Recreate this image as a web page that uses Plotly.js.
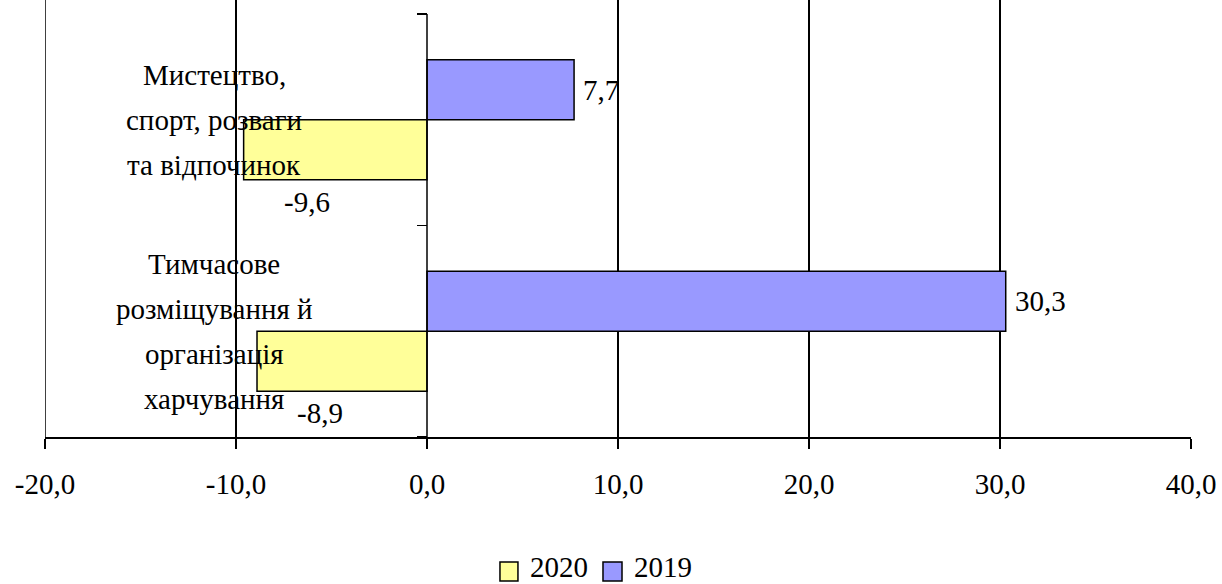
<!DOCTYPE html>
<html>
<head>
<meta charset="utf-8">
<script src="https://cdn.plot.ly/plotly-3.0.1.min.js"></script>
<style>
html,body{margin:0;padding:0;background:#fff;}
#chart text {
  font-family: "Liberation Serif", "Times New Roman", "DejaVu Serif", serif !important;
}
</style>
</head>
<body>
<div id="chart" style="width:1222px;height:584px"></div>
<script>
// ---- data ----
const categories = [
  "Тимчасове розміщування й організація харчування",
  "Мистецтво, спорт, розваги та відпочинок"
];
const categoryLabelLines = [
  ["Тимчасове", "розміщування й", "організація", "харчування"],
  ["Мистецтво,", "спорт, розваги", "та відпочинок"]
];
const seriesNames = ["2020", "2019"];
const values2020 = [-8.9, -9.6];
const values2019 = [30.3, 7.7];
const xTickVals = [-20, -10, 0, 10, 20, 30, 40];
const xTickLabels = ["-20,0", "-10,0", "0,0", "10,0", "20,0", "30,0", "40,0"];

// ---- styles ----
const colors = ["#FFFF99", "#9999FF"];
const fmt = v => v.toFixed(1).replace(".", ",");
function tf() { return {family: "Liberation Serif", size: 29, color: "#000000"}; }

const traces = [values2020, values2019].map((vals, k) => ({
  type: "bar",
  orientation: "h",
  name: seriesNames[k],
  x: vals,
  y: categories,
  marker: {color: colors[k], line: {color: "#000", width: 1.5}},
  hoverinfo: "none",
  showlegend: false
}));

const annotations = [];
const shapes = [];
categories.forEach((cat, i) => {
  const lines = categoryLabelLines[i];
  const n = lines.length;
  lines.forEach((ln, j) => {
    annotations.push({
      xref: "paper", yref: "y", x: 0.1475, y: cat,
      xanchor: "center", yanchor: "middle",
      yshift: ((n - 1) / 2 - j) * 45,
      text: ln, showarrow: false, font: tf()
    });
  });
  annotations.push({
    xref: "x", yref: "y", x: values2019[i], y: cat,
    xanchor: "left", yanchor: "middle", xshift: 7, yshift: 30,
    text: fmt(values2019[i]), showarrow: false, font: tf()
  });
  annotations.push({
    xref: "x", yref: "y", x: values2020[i], y: cat,
    xanchor: "left", yanchor: "middle", xshift: 38, yshift: -82,
    text: fmt(values2020[i]), showarrow: false, font: tf()
  });
});

// manual legend (boxes + names)
const legendBoxX = [[0.3970, 0.4127], [0.4869, 0.5035]];
const legendTextX = [0.4215, 0.5122];
seriesNames.forEach((nm, k) => {
  shapes.push({
    type: "rect", xref: "paper", yref: "paper",
    x0: legendBoxX[k][0], x1: legendBoxX[k][1], y0: -0.3295, y1: -0.2860,
    fillcolor: colors[k], line: {color: "#000", width: 1.5}
  });
  annotations.push({
    xref: "paper", yref: "paper", x: legendTextX[k], y: -0.298,
    xanchor: "left", yanchor: "middle", text: nm, showarrow: false, font: tf()
  });
});

// y-axis line at x = 0 (category boundaries)
shapes.push({
  type: "line", xref: "x", yref: "y", x0: 0, x1: 0, y0: -0.5, y1: 1.5,
  line: {color: "#000", width: 1.5}, layer: "above"
});
// left-edge gridline
shapes.push({
  type: "line", xref: "x", yref: "paper", x0: xTickVals[0], x1: xTickVals[0], y0: 0, y1: 1,
  line: {color: "#000", width: 1.5}, layer: "below"
});

const layout = {
  width: 1222, height: 584,
  margin: {l: 45, r: 31, t: 0, b: 147, pad: 0},
  paper_bgcolor: "#fff", plot_bgcolor: "#fff",
  barmode: "group", bargap: 0.433, bargroupgap: 0,
  font: tf(),
  showlegend: false,
  xaxis: {
    range: [-20, 40], tickmode: "array", tickvals: xTickVals, ticktext: xTickLabels,
    showgrid: true, gridcolor: "#000", gridwidth: 1.5,
    zeroline: true, zerolinecolor: "#fff", zerolinewidth: 2,
    showline: true, linecolor: "#000", linewidth: 2,
    ticks: "outside", ticklen: 10, tickwidth: 1.5, tickcolor: "#000",
    ticklabelstandoff: 10,
    tickfont: tf(),
    fixedrange: true
  },
  yaxis: {
    type: "category", range: [-0.5, 1.566],
    anchor: "free", position: 1 / 3,
    showticklabels: false, showgrid: false, zeroline: false, showline: false,
    tickson: "boundaries", ticks: "outside", ticklen: 10, tickwidth: 1.5, tickcolor: "#000",
    fixedrange: true
  },
  shapes: shapes,
  annotations: annotations
};

const config = {staticPlot: true, displayModeBar: false};
Plotly.newPlot("chart", traces, layout, config);
if (document.fonts && document.fonts.load) {
  document.fonts.load('29px "Liberation Serif"', "Мистецтво 30,3").then(() => {
    Plotly.react("chart", traces, layout, config);
  }).catch(() => {});
}
</script>
</body>
</html>
